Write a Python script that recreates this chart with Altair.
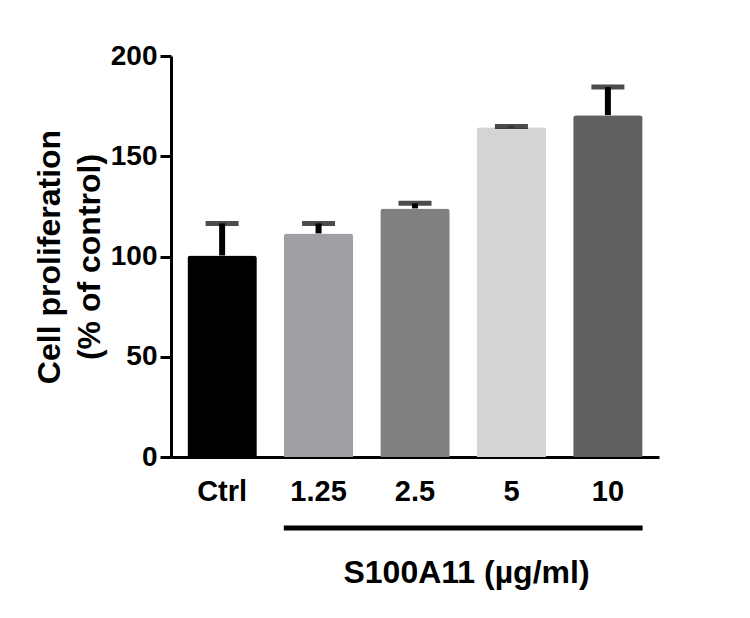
import altair as alt
import pandas as pd

# bar values
doses = ["Ctrl", "1.25", "2.5", "5", "10"]
means = [100.5, 111.5, 124, 164.5, 170.5]
errors = [16, 5, 2.5, 0.3, 14]
bar_colors = ["#000000", "#a0a0a4", "#808080", "#d4d4d4", "#606060"]

df = pd.DataFrame({"dose": doses, "mean": means, "err": errors})
df["upper"] = df["mean"] + df["err"]

FONT = "Liberation Sans"

x_scale = alt.Scale(domain=doses, paddingInner=0.28, paddingOuter=0.17)

x_enc = alt.X(
    "dose:N",
    scale=x_scale,
    axis=alt.Axis(
        title="S100A11 (µg/ml)",
        titleX=295,
        titleY=125,
        titleBaseline="alphabetic",
        titleFont=FONT,
        titleFontSize=32,
        titleFontWeight="bold",
        titleColor="black",
        labelAngle=0,
        labelFont=FONT,
        labelFontSize=29,
        labelFontWeight="bold",
        labelColor="black",
        labelPadding=20,
        ticks=False,
        tickSize=0,
        domainColor="black",
        domainWidth=3,
    ),
)

y_enc = alt.Y(
    "mean:Q",
    scale=alt.Scale(domain=[0, 200], nice=False),
    axis=alt.Axis(
        title=["Cell proliferation", "(% of control)"],
        titleFont=FONT,
        titleFontSize=32,
        titleFontWeight="bold",
        titleColor="black",
        titleLineHeight=40,
        titlePadding=4,
        values=[0, 50, 100, 150, 200],
        grid=False,
        labelFont=FONT,
        labelFontSize=28,
        labelFontWeight="bold",
        labelColor="black",
        labelPadding=3,
        tickSize=11,
        tickWidth=3,
        tickColor="black",
        domainColor="black",
        domainWidth=3,
    ),
)

bars = alt.Chart(df).mark_bar(cornerRadiusTopLeft=3, cornerRadiusTopRight=3).encode(
    x=x_enc,
    y=y_enc,
    color=alt.Color("dose:N", scale=alt.Scale(domain=doses, range=bar_colors), legend=None),
)

# upper error bar only
stems = alt.Chart(df).mark_rule(color="black", strokeWidth=6).encode(
    x=alt.X("dose:N", scale=x_scale),
    y="mean:Q",
    y2="upper:Q",
)
caps = alt.Chart(df).mark_tick(color="black", size=33, thickness=5).encode(
    x=alt.X("dose:N", scale=x_scale),
    y="upper:Q",
)

# bracket line under the treated groups
bracket = pd.DataFrame({"start": ["1.25"], "end": ["10"]})
line = alt.Chart(bracket).mark_rule(color="black", strokeWidth=5, clip=False).encode(
    x=alt.X("start:N", scale=x_scale, bandPosition=0),
    x2=alt.X2("end:N", bandPosition=1),
    y=alt.value(472),
)

chart = alt.layer(bars, stems, caps, line).properties(
    width=488,
    height=401,
    background="white",
    autosize=alt.AutoSizeParams(type="none"),
    padding={"left": 163, "top": 48, "right": 60, "bottom": 140},
).configure_view(strokeWidth=0)

chart.save("out.html", embed_options={"renderer": "svg", "actions": False})
